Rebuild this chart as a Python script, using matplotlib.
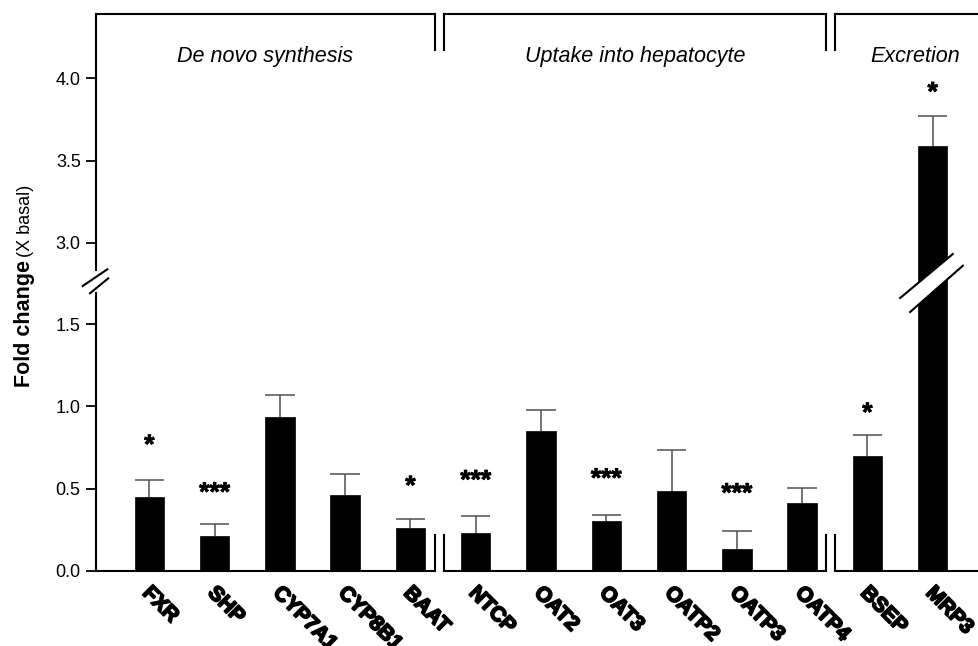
import matplotlib
matplotlib.use("Agg")
import matplotlib.pyplot as plt
import matplotlib.transforms as mtransforms
import matplotlib.patheffects as pe
from matplotlib.lines import Line2D
from matplotlib.patches import Polygon
import numpy as np

plt.rcParams['font.family'] = ['Liberation Sans', 'DejaVu Sans']

# ---------------- data ----------------
genes = ["FXR", "SHP", "CYP7A1", "CYP8B1", "BAAT",
         "NTCP", "OAT2", "OAT3", "OATP2", "OATP3", "OATP4",
         "BSEP", "MRP3"]
fold_change = [0.45, 0.21, 0.935, 0.46, 0.26,
               0.23, 0.85, 0.30, 0.485, 0.13, 0.415,
               0.70, 3.59]
sem = [0.10, 0.075, 0.134, 0.128, 0.053,
       0.103, 0.128, 0.037, 0.252, 0.112, 0.089,
       0.126, 0.18]
significance = ["*", "***", "", "", "*",
                "***", "", "***", "", "***", "",
                "*", "*"]
sig_height = [0.76, 0.47, None, None, 0.51,
              0.545, None, 0.555, None, 0.465, None,
              0.955, 3.91]
group_names = ["De novo synthesis", "Uptake into hepatocyte", "Excretion"]
group_sizes = [5, 6, 2]
low_ticks = [0.0, 0.5, 1.0, 1.5]
high_ticks = [3.0, 3.5, 4.0]

# ---------------- layout ----------------
W, H = 979, 646
DPI = 100
fig = plt.figure(figsize=(W / DPI, H / DPI), dpi=DPI)

def fx(px):
    return px / W

def fy(py):
    return 1 - py / H

y0_px, junction_px, top_px = 570.7, 281.0, 14.0
left_px = 96.0
ax_lo = fig.add_axes([fx(left_px), fy(y0_px), 1 - fx(left_px), fy(junction_px) - fy(y0_px)])
ax_hi = fig.add_axes([fx(left_px), fy(junction_px), 1 - fx(left_px), fy(top_px) - fy(junction_px)])

scale = 164.3  # px per unit
xlim = (-0.817, 12.71)
lo_ylim = (0.0, (y0_px - junction_px) / scale)
hi_ylim = (3.0 - (junction_px - 242.7) / scale, 4.0 + (78.3 - top_px) / scale)

x = np.arange(len(genes))
bw = 0.45
lw_axis = 1.5
err_color = "#505050"
heavy = [pe.withStroke(linewidth=1.3, foreground="black")]

for ax, ylim in ((ax_lo, lo_ylim), (ax_hi, hi_ylim)):
    ax.set_xlim(*xlim)
    ax.set_ylim(*ylim)
    ax.bar(x, fold_change, width=bw, color="black", edgecolor="black", linewidth=0.5, zorder=3)
    tops = np.array(fold_change) + np.array(sem)
    ax.vlines(x, fold_change, tops, color=err_color, linewidth=1.1, zorder=2)
    ax.hlines(tops, x - bw / 2, x + bw / 2, color=err_color, linewidth=1.1, zorder=2)
    for s in ("top", "right", "bottom"):
        ax.spines[s].set_visible(False)
    ax.spines["left"].set_linewidth(lw_axis)
    ax.tick_params(axis="y", direction="out", length=7, width=1.3, labelsize=13, pad=4)
    ax.patch.set_alpha(0)

ax_lo.spines["left"].set_bounds(0.0, (y0_px - 293) / scale)
ax_hi.spines["left"].set_bounds(3.0 - (270 - 242.7) / scale, hi_ylim[1])
ax_lo.set_yticks(low_ticks, [f"{t:.1f}" for t in low_ticks])
ax_hi.set_yticks(high_ticks, [f"{t:.1f}" for t in high_ticks])
ax_hi.set_xticks([])

# x tick labels
ax_lo.set_xticks(x, genes)
ax_lo.tick_params(axis="x", length=0, pad=9)
for lab in ax_lo.get_xticklabels():
    lab.set_fontweight("bold")
    lab.set_fontsize(15)
    lab.set_rotation(-45)
    lab.set_rotation_mode("anchor")
    lab.set_ha("left")
    lab.set_va("top")
    lab.set_path_effects(heavy)
    lab.set_transform(lab.get_transform() + mtransforms.ScaledTranslation(3.0 / DPI, 0, fig.dpi_scale_trans))

# significance markers
for xi, s, h in zip(x, significance, sig_height):
    if s:
        ax = ax_hi if h > 2 else ax_lo
        ax.text(xi, h, s, ha="center", va="center", fontsize=19, fontweight="bold", zorder=4,
                path_effects=[pe.withStroke(linewidth=0.6, foreground="black")])

# group boundaries
bounds = np.cumsum(group_sizes)[:-1] - 0.5  # 4.5, 10.5
gap = 0.07
seg_edges = [xlim[0]]
for b in bounds:
    seg_edges += [b - 0.06 - gap, b - 0.06 + gap]
seg_edges.append(xlim[1])
segments = [(seg_edges[i], seg_edges[i + 1]) for i in range(0, len(seg_edges), 2)]

tr_lo = mtransforms.blended_transform_factory(ax_lo.transData, ax_lo.transAxes)
tr_hi = mtransforms.blended_transform_factory(ax_hi.transData, ax_hi.transAxes)
bot_h = 36 / (y0_px - junction_px)
top_h = 1 - 36 / (junction_px - top_px)
for i, (a, b) in enumerate(segments):
    ax_lo.plot([a, b], [0, 0], transform=tr_lo, color="black", lw=lw_axis, clip_on=False, zorder=5)
    ax_hi.plot([a, b], [1, 1], transform=tr_hi, color="black", lw=lw_axis, clip_on=False, zorder=5,
               solid_capstyle="projecting")
    if i > 0:
        ax_lo.plot([a, a], [0, bot_h], transform=tr_lo, color="black", lw=lw_axis, clip_on=False)
        ax_hi.plot([a, a], [1, top_h], transform=tr_hi, color="black", lw=lw_axis, clip_on=False)
    if i < len(segments) - 1:
        ax_lo.plot([b, b], [0, bot_h], transform=tr_lo, color="black", lw=lw_axis, clip_on=False)
        ax_hi.plot([b, b], [1, top_h], transform=tr_hi, color="black", lw=lw_axis, clip_on=False)

# group labels
group_right = [segments[0][1], segments[1][1], 12.95]
group_left = [segments[0][0], segments[1][0], segments[2][0]]
label_y = 4.0 + (78.3 - 62) / scale
for name, l, r in zip(group_names, group_left, group_right):
    ax_hi.text((l + r) / 2, label_y, name, ha="center", va="baseline",
               fontsize=15.5, fontstyle="italic")

# y label
fig.text(fx(35), fy(260), "Fold change", rotation=90, ha="right", va="top",
         fontsize=15.5, fontweight="bold")
fig.text(fx(34), fy(257), "(X basal)", rotation=90, ha="right", va="bottom", fontsize=13)

# break marks (in image-pixel offsets)
def pix_line(p0, p1, **kw):
    fig.add_artist(Line2D([fx(p0[0]), fx(p1[0])], [fy(p0[1]), fy(p1[1])],
                          transform=fig.transFigure, **kw))

# y-axis break
sx = left_px
pix_line((sx - 13.3, junction_px + 5), (sx + 11.3, junction_px - 11.7), color="black", lw=1.5)
pix_line((sx - 6.0, junction_px + 12.3), (sx + 12.3, junction_px - 2.7), color="black", lw=1.5)

# MRP3 bar break
fig.canvas.draw()
mx = ax_lo.transData.transform((x[-1], 0))[0]
A0, A1 = (mx - 32.5, junction_px + 17), (mx + 20.2, junction_px - 27)
B0, B1 = (mx - 22.5, junction_px + 31), (mx + 30.2, junction_px - 15.3)
poly = Polygon([[fx(A0[0]), fy(A0[1])], [fx(A1[0]), fy(A1[1])],
                [fx(B1[0]), fy(B1[1])], [fx(B0[0]), fy(B0[1])]],
               closed=True, transform=fig.transFigure, facecolor="white", edgecolor="none", zorder=10)
fig.add_artist(poly)
pix_line(A0, A1, color="black", lw=1.5, zorder=11)
pix_line(B0, B1, color="black", lw=1.5, zorder=11)

fig.savefig("out.png", dpi=DPI)
